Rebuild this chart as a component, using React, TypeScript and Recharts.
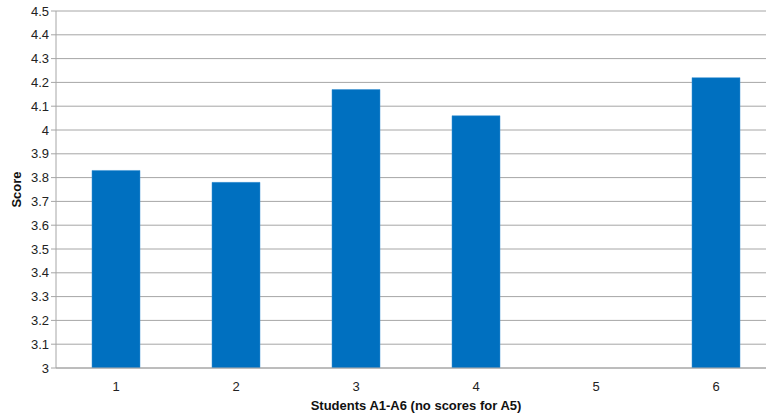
import { BarChart, Bar, XAxis, YAxis, CartesianGrid } from "recharts";

const students = ["1", "2", "3", "4", "5", "6"];
const scores: (number | null)[] = [3.83, 3.78, 4.17, 4.06, null, 4.22];
const yTicks = [3, 3.1, 3.2, 3.3, 3.4, 3.5, 3.6, 3.7, 3.8, 3.9, 4, 4.1, 4.2, 4.3, 4.4, 4.5];

const data = students.map((s, i) => ({ student: s, score: scores[i] }));

const font = "'Liberation Sans', Arial, sans-serif";

// the source picture is cropped on the right, so the chart is drawn wider and clipped
const App = () => {
	return (
		<div style={{ position: "absolute", left: 0, top: 0, width: 766, height: 419, overflow: "hidden", background: "#fff", fontFamily: font }}>
			<BarChart
				width={780}
				height={419}
				data={data}
				margin={{ top: 11, right: 4, bottom: 0, left: 0 }}
				barCategoryGap="30%"
			>
				<CartesianGrid vertical={false} stroke="#A6A6A6" strokeWidth={1} />
				<XAxis
					dataKey="student"
					height={51}
					stroke="#A6A6A6"
					tickLine={false}
					tick={{ fill: "#222", fontSize: 13, fontFamily: font }}
					tickMargin={8}
					label={{ value: "Students A1-A6 (no scores for A5)", position: "insideBottom", offset: 9, fill: "#111", fontSize: 13, fontWeight: "bold", fontFamily: font }}
				/>
				<YAxis
					width={56}
					domain={[3, 4.5]}
					ticks={yTicks}
					interval={0}
					allowDataOverflow
					stroke="#A6A6A6"
					tickSize={5}
					tickFormatter={(v: number) => String(Number(v.toFixed(1)))}
					tick={{ fill: "#222", fontSize: 13, fontFamily: font }}
					label={{ value: "Score", angle: -90, position: "insideLeft", offset: 16, fill: "#111", fontSize: 13, fontWeight: "bold", fontFamily: font, style: { textAnchor: "middle" } }}
				/>
				<Bar dataKey="score" fill="#0070C0" stroke="#3b92d4" strokeWidth={0.5} isAnimationActive={false} />
			</BarChart>
		</div>
	);
};

export default App;
